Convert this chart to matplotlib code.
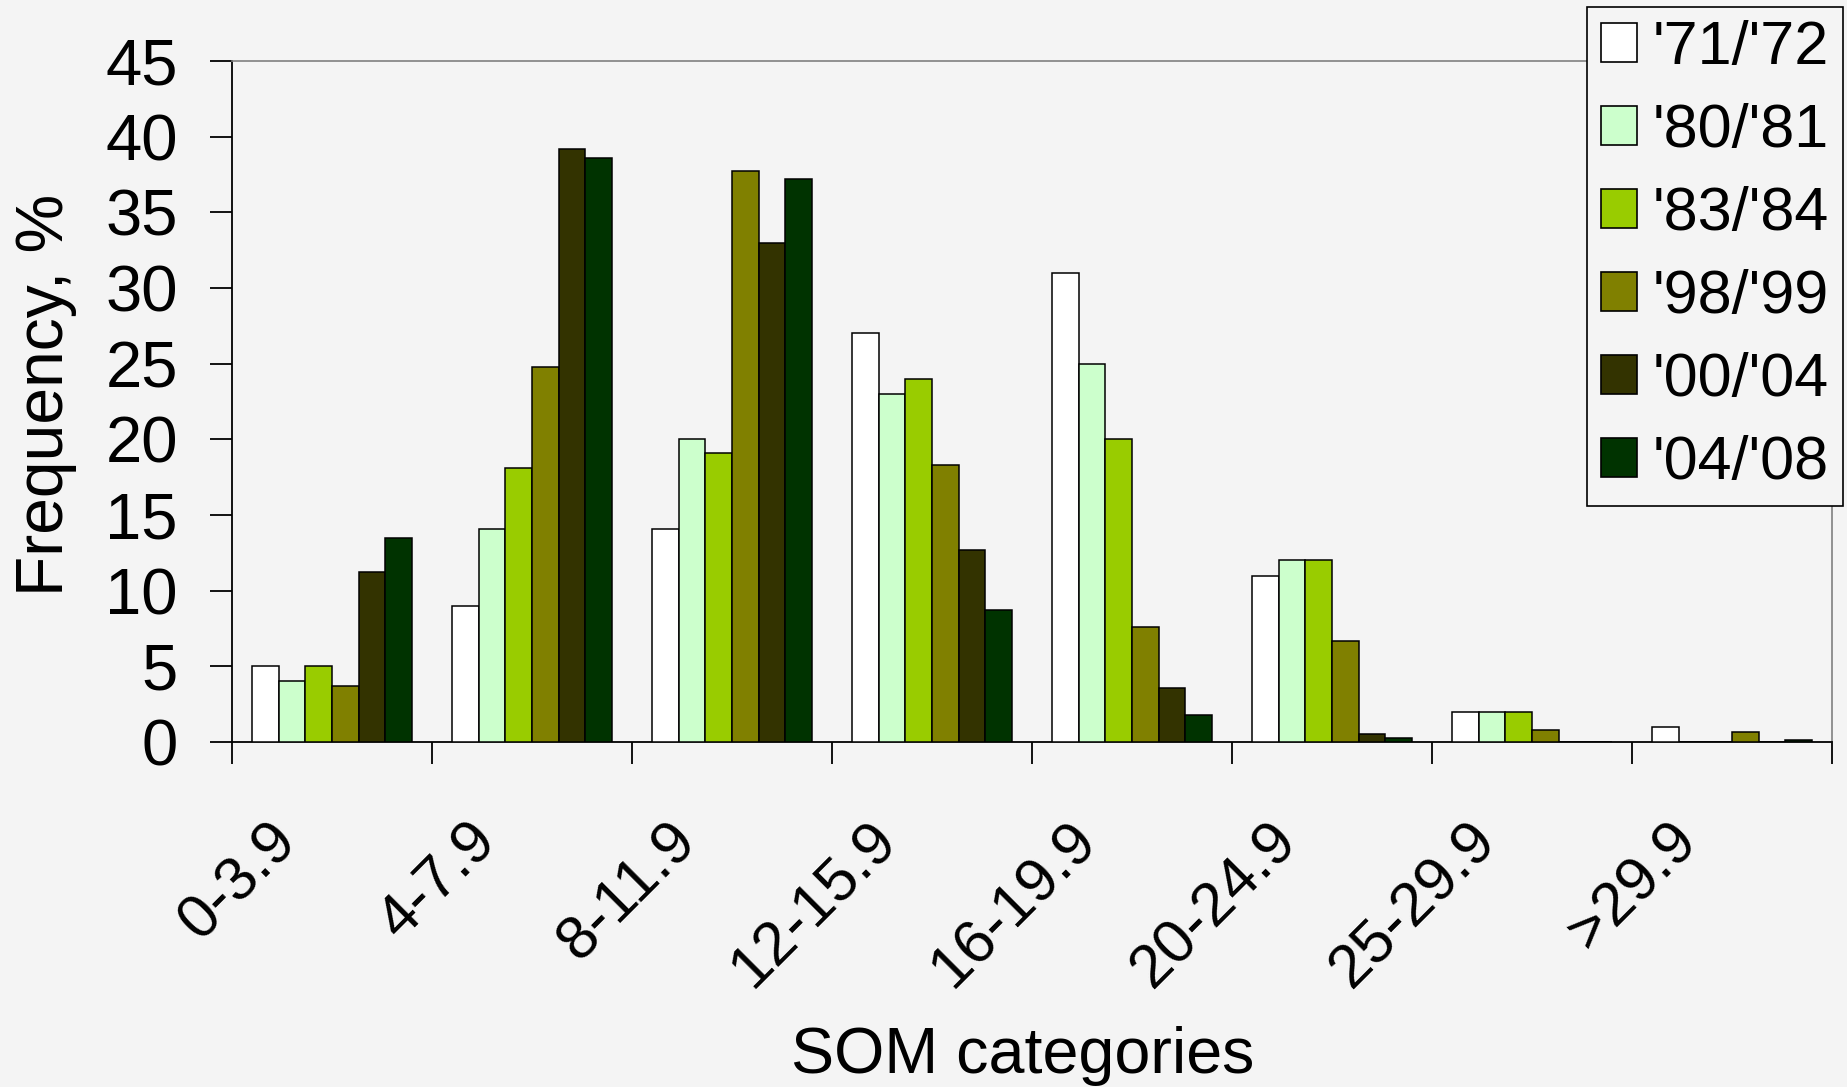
import matplotlib
matplotlib.use("Agg")
import matplotlib.pyplot as plt
import matplotlib.transforms as mtransforms
import numpy as np
from matplotlib.patches import Patch

plt.rcParams['font.family'] = ['Liberation Sans', 'DejaVu Sans']

categories = ["0-3.9", "4-7.9", "8-11.9", "12-15.9", "16-19.9", "20-24.9", "25-29.9", ">29.9"]
series_names = ["'71/'72", "'80/'81", "'83/'84", "'98/'99", "'00/'04", "'04/'08"]
colors = ["#ffffff", "#ccffcc", "#99cc00", "#808000", "#333300", "#003300"]

s71_72 = [5.0, 9.0, 14.1, 27.0, 31.0, 11.0, 2.0, 1.0]
s80_81 = [4.0, 14.1, 20.0, 23.0, 25.0, 12.0, 2.0, 0.0]
s83_84 = [5.0, 18.1, 19.1, 24.0, 20.0, 12.0, 2.0, 0.0]
s98_99 = [3.7, 24.8, 37.7, 18.3, 7.6, 6.7, 0.8, 0.65]
s00_04 = [11.2, 39.2, 33.0, 12.7, 3.6, 0.5, 0.0, 0.0]
s04_08 = [13.5, 38.6, 37.2, 8.7, 1.8, 0.25, 0.0, 0.1]
series = [s71_72, s80_81, s83_84, s98_99, s00_04, s04_08]

bg = "#f4f4f4"
fig = plt.figure(figsize=(18.47, 10.87), dpi=100, facecolor=bg)
ax = fig.add_axes([0.1256, 0.3174, 0.8663, 0.6265], facecolor=bg)

n = len(series)
group_w = 0.8
bw = group_w / n
x0 = np.arange(len(categories))
for k, (vals, name, c) in enumerate(zip(series, series_names, colors)):
    ax.bar(x0 + 0.1 + k * bw, vals, width=bw, align='edge', color=c,
           edgecolor='black', linewidth=1.1, label=name, zorder=3)

ax.set_xlim(0, len(categories))
ax.set_ylim(0, 45)
ax.set_yticks(np.arange(0, 46, 5))
ax.set_xticks(np.arange(0, len(categories) + 1))
ax.set_xticklabels([])
ax.tick_params(axis='x', which='major', length=16, width=1.3, direction='out')
ax.tick_params(axis='y', length=16, width=1.3, direction='out', labelsize=47, pad=23)

# category labels, rotated and set below each group
lbl_tf = mtransforms.blended_transform_factory(ax.transData, ax.transAxes) + \
    mtransforms.ScaledTranslation(-0.44, -0.90, fig.dpi_scale_trans)
for i, cat in enumerate(categories):
    ax.text(i + 0.5, 0, cat, transform=lbl_tf, rotation=45, rotation_mode='anchor',
            ha='right', va='center', fontsize=44, clip_on=False)

for side in ('left', 'bottom'):
    ax.spines[side].set_color('black')
    ax.spines[side].set_linewidth(1.3)
for side in ('top', 'right'):
    ax.spines[side].set_color('#808080')
    ax.spines[side].set_linewidth(1.2)

ax.set_ylabel("Frequency, %", fontsize=47.5)
ax.yaxis.set_label_coords(-0.0969, 0.51)
ax.set_xlabel("SOM categories", fontsize=46.5, va='baseline')
ax.xaxis.set_label_coords(0.494, -0.486)

handles = [Patch(facecolor=c, edgecolor='black', linewidth=1.2) for c in colors]
leg = fig.legend(handles, series_names, loc='upper right',
                 bbox_to_anchor=(0.9978, 0.9936), fontsize=44, frameon=True,
                 fancybox=False, edgecolor='black', facecolor=bg, framealpha=1,
                 handlelength=0.6, handleheight=0.6, handletextpad=0.26,
                 labelspacing=0.425, borderpad=0.22, borderaxespad=0)
leg.get_frame().set_linewidth(1.2)

fig.savefig("out.png", dpi=100, facecolor=bg)
